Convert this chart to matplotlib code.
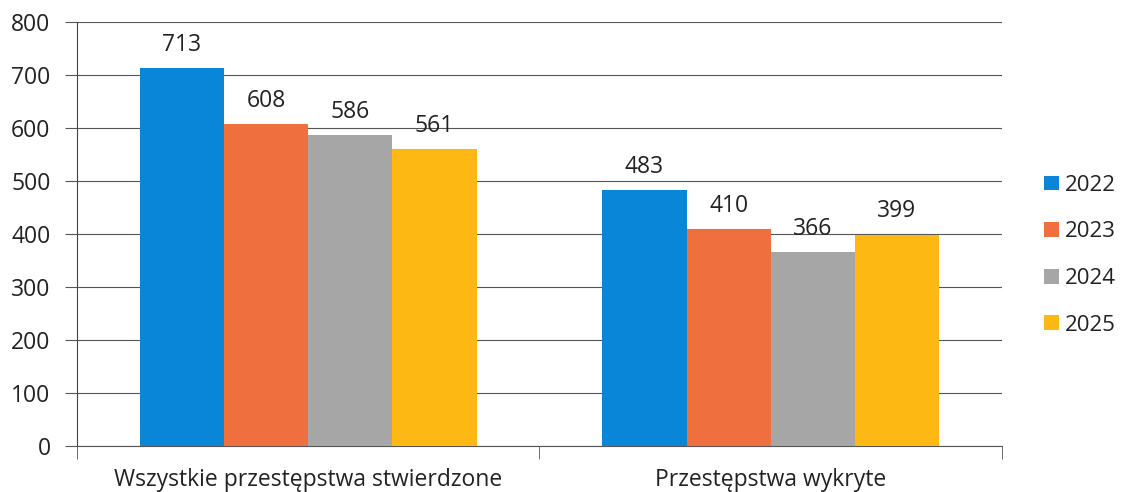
#!/usr/bin/env python3

import matplotlib
matplotlib.use("Agg")
import matplotlib.pyplot as plt
import numpy as np


categories = ["Wszystkie przestępstwa stwierdzone", "Przestępstwa wykryte"]
years = ["2022", "2023", "2024", "2025"]
values = {
    "2022": [713, 483],
    "2023": [608, 410],
    "2024": [586, 366],
    "2025": [561, 399],
}
colors = ["#0A86D8", "#EF6F3F", "#A6A6A6", "#FDB814"]


def graph():
    plt.rcParams['font.family'] = ['Open Sans', 'DejaVu Sans']
    fig = plt.figure(figsize=(11.22, 4.92), dpi=100)
    ax = fig.add_axes([0.0686, 0.0935, 0.8244, 0.8618])

    x = np.arange(len(categories))
    w = 0.182
    for i, yr in enumerate(years):
        pos = x + (i - 1.5) * w
        bars = ax.bar(pos, values[yr], w, color=colors[i], label=yr, zorder=3)
        for b, v in zip(bars, values[yr]):
            ax.annotate(str(v), (b.get_x() + b.get_width() / 2, v),
                        xytext=(0, 8), textcoords="offset points",
                        ha="center", va="bottom", fontsize=16.5,
                        color="#222222")

    ax.set_xlim(-0.5, 1.5)
    ax.set_ylim(0, 800)
    ax.set_yticks(range(0, 801, 100))
    ax.yaxis.grid(True, color="#555555", linewidth=0.8, zorder=0)
    ax.tick_params(axis="y", length=9, color="#555555", labelsize=16.5,
                   labelcolor="#222222", pad=10)
    ax.set_xticks(x)
    ax.set_xticklabels(categories, fontsize=16.5, color="#222222")
    ax.tick_params(axis="x", length=0, pad=16)
    ax.set_xticks([-0.5, 0.5, 1.5], minor=True)
    ax.tick_params(axis="x", which="minor", length=9, color="#555555")

    for s in ["top", "right"]:
        ax.spines[s].set_visible(False)
    ax.spines["left"].set_color("#444444")
    ax.spines["bottom"].set_color("#555555")
    ax.spines["left"].set_linewidth(0.8)
    ax.spines["bottom"].set_linewidth(0.8)

    ax.legend(loc="center left", bbox_to_anchor=(1.046, 0.45), frameon=False,
              fontsize=16, handlelength=0.65, handleheight=0.65,
              labelspacing=1.15, handletextpad=0.25, borderpad=0,
              borderaxespad=0, labelcolor="#222222")

    fig.savefig("out.png", dpi=100)


if __name__ == "__main__":
    graph()
